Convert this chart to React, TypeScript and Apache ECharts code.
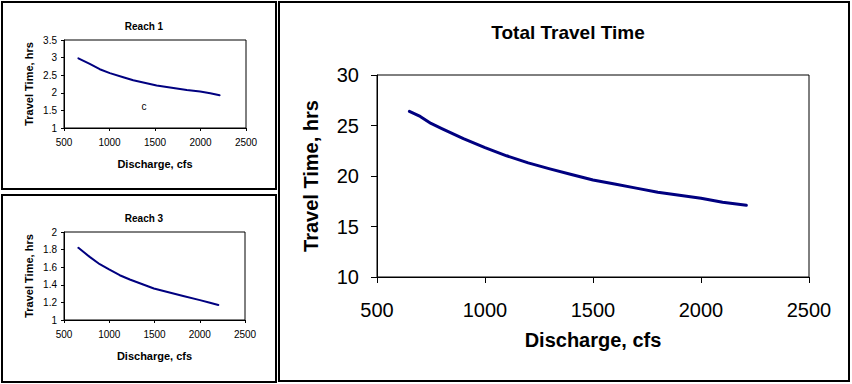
import React, { useEffect, useRef } from "react";
import * as echarts from "echarts";

// Discharge (cfs) and travel time (hrs)
const reach1Q = [658, 783, 893, 1004, 1151, 1261, 1408, 1518, 1702, 1849, 1996, 2107, 2210];
const reach1T = [2.98, 2.82, 2.67, 2.56, 2.44, 2.355, 2.27, 2.21, 2.135, 2.08, 2.035, 1.99, 1.93];

const reach3Q = [659, 784, 895, 998, 1116, 1227, 1375, 1493, 1633, 1817, 2002, 2113, 2205];
const reach3T = [1.82, 1.717, 1.634, 1.574, 1.509, 1.46, 1.404, 1.358, 1.32, 1.272, 1.226, 1.196, 1.17];

const totalQ = [650, 700, 750, 800, 900, 1000, 1100, 1200, 1300, 1400, 1500, 1600, 1700, 1800, 1900, 2000, 2100, 2210];
const totalT = [26.4, 25.9, 25.2, 24.7, 23.7, 22.8, 22.0, 21.3, 20.7, 20.15, 19.6, 19.2, 18.8, 18.4, 18.1, 17.8, 17.4, 17.1];

const titles = ["Reach 1", "Reach 3", "Total Travel Time"];
const xName = "Discharge, cfs";
const yName = "Travel Time, hrs";

const FONT = '"Liberation Sans", Arial, sans-serif';
const LINE = "#000080";

function pairs(q: number[], t: number[]) {
  return q.map((v, i) => [v, t[i]]);
}

const plain = (v: number) => String(v);

export default function App() {
  const ref = useRef<HTMLDivElement>(null);
  useEffect(() => {
    document.body.style.margin = "0";
    const chart = echarts.init(ref.current!, null, { renderer: "svg" });
    const smallX = (gridIndex: number) => ({
      type: "value",
      gridIndex,
      min: 500,
      max: 2500,
      interval: 500,
      name: xName,
      nameLocation: "middle",
      nameGap: 30,
      nameTextStyle: { fontFamily: FONT, fontWeight: "bold", fontSize: 11, color: "#000" },
      axisLine: { show: true, lineStyle: { color: "#000", width: 1 } },
      axisTick: { show: true, length: 3, lineStyle: { color: "#000" } },
      axisLabel: { margin: 9, fontFamily: FONT, fontSize: 10, color: "#000", formatter: plain },
      splitLine: { show: false },
    });
    const smallY = (gridIndex: number, min: number, max: number, interval: number) => ({
      type: "value",
      gridIndex,
      min,
      max,
      interval,
      name: yName,
      nameLocation: "middle",
      nameGap: 30,
      nameTextStyle: { fontFamily: FONT, fontWeight: "bold", fontSize: 11, color: "#000" },
      axisLine: { show: true, lineStyle: { color: "#000", width: 1 } },
      axisTick: { show: true, length: 3, lineStyle: { color: "#000" } },
      axisLabel: { margin: 7, fontFamily: FONT, fontSize: 10, color: "#000" },
      splitLine: { show: false },
    });
    const lineSeries = (i: number, q: number[], t: number[], w: number) => ({
      type: "line",
      xAxisIndex: i,
      yAxisIndex: i,
      data: pairs(q, t),
      showSymbol: false,
      smooth: false,
      lineStyle: { color: LINE, width: w, join: "round", cap: "round" },
    });
    chart.setOption({
      animation: false,
      backgroundColor: "#fff",
      title: [
        { text: titles[0], left: 139, top: 16, textAlign: "center", textStyle: { fontFamily: FONT, fontSize: 10, fontWeight: "bold", color: "#000" } },
        { text: titles[1], left: 139, top: 208, textAlign: "center", textStyle: { fontFamily: FONT, fontSize: 10, fontWeight: "bold", color: "#000" } },
        { text: titles[2], left: 563, top: 18, textAlign: "center", textStyle: { fontFamily: FONT, fontSize: 19, fontWeight: "bold", color: "#000" } },
      ],
      grid: [
        { left: 64, top: 40, width: 182, height: 88, show: true, borderColor: "#000", borderWidth: 1 },
        { left: 64, top: 232, width: 181, height: 88, show: true, borderColor: "#000", borderWidth: 1 },
        { left: 377, top: 75, width: 432, height: 202, show: true, borderColor: "#000", borderWidth: 1 },
      ],
      xAxis: [
        smallX(0),
        smallX(1),
        {
          type: "value",
          gridIndex: 2,
          min: 500,
          max: 2500,
          interval: 500,
          name: xName,
          nameLocation: "middle",
          nameGap: 53,
          nameTextStyle: { fontFamily: FONT, fontWeight: "bold", fontSize: 20, color: "#000" },
          axisLine: { show: true, lineStyle: { color: "#000", width: 1 } },
          axisTick: { show: true, length: 6, lineStyle: { color: "#000" } },
          axisLabel: { margin: 23, fontFamily: FONT, fontSize: 20, color: "#000", formatter: plain },
          splitLine: { show: false },
        },
      ],
      yAxis: [
        smallY(0, 1, 3.5, 0.5),
        smallY(1, 1, 2, 0.2),
        {
          type: "value",
          gridIndex: 2,
          min: 10,
          max: 30,
          interval: 5,
          name: yName,
          nameLocation: "middle",
          nameGap: 56,
          nameTextStyle: { fontFamily: FONT, fontWeight: "bold", fontSize: 20, color: "#000" },
          axisLine: { show: true, lineStyle: { color: "#000", width: 1 } },
          axisTick: { show: true, length: 6, lineStyle: { color: "#000" } },
          axisLabel: { margin: 18, fontFamily: FONT, fontSize: 20, color: "#000" },
          splitLine: { show: false },
        },
      ],
      series: [
        lineSeries(0, reach1Q, reach1T, 2),
        lineSeries(1, reach3Q, reach3T, 2),
        lineSeries(2, totalQ, totalT, 3),
      ],
      graphic: [
        { type: "rect", shape: { x: 2, y: 2, width: 274, height: 187 }, style: { fill: "none", stroke: "#000", lineWidth: 2 } },
        { type: "rect", shape: { x: 2, y: 195, width: 274, height: 187 }, style: { fill: "none", stroke: "#000", lineWidth: 2 } },
        { type: "rect", shape: { x: 279, y: 2, width: 570, height: 379 }, style: { fill: "none", stroke: "#000", lineWidth: 2 } },
        { type: "text", x: 144, y: 106, style: { text: "c", font: `10px ${FONT}`, fill: "#000", textAlign: "center", textVerticalAlign: "middle" } },
      ],
    });
    return () => chart.dispose();
  }, []);
  return <div ref={ref} style={{ position: "absolute", left: 0, top: 0, width: 852, height: 384, background: "#fff" }} />;
}
